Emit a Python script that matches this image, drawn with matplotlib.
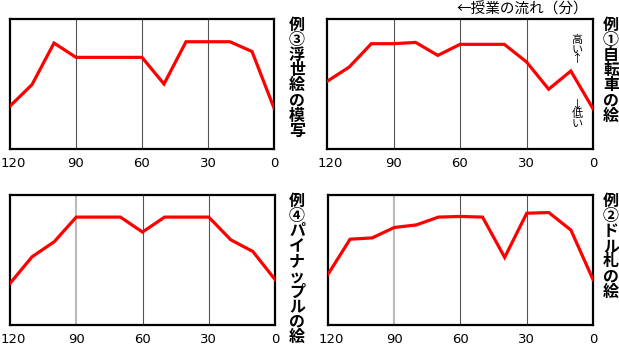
import numpy as np
import matplotlib
matplotlib.use("Agg")
import matplotlib.pyplot as plt

plt.rcParams['font.family'] = ['Noto Sans CJK JP', 'DejaVu Sans']

# minutes elapsed (axis runs 120 -> 0)
minutes = [120, 110, 100, 90, 80, 70, 60, 50, 40, 30, 20, 10, 0]
ticks = [120, 90, 60, 30, 0]

# interest level, 0 (bottom) .. 100 (top)
ex1_bicycle = [52, 63, 81, 81, 82, 72, 80.5, 80.5, 80.5, 67, 46, 60, 31]
ex2_dollar = [39, 66, 67, 75, 77, 83, 83.5, 83, 52, 86, 86.5, 73, 35]
ex3_ukiyoe = [33, 49.5, 81.5, 70.5, 70.5, 70.5, 70.5, 50, 82.5, 82.5, 82.5, 75, 31.5]
ex4_pineapple = [32, 52.5, 64, 83, 83, 83, 71.5, 83, 83, 83, 65.5, 56.5, 35]

titles = {
    "ex1": "例①自転車の絵",
    "ex2": "例②ドル札の絵",
    "ex3": "例③浮世絵の模写",
    "ex4": "例④パイナップルの絵",
}

W, H = 619, 352
fig = plt.figure(figsize=(W / 100, H / 100), dpi=100)


def px_axes(x0, y0, x1, y1):
    return fig.add_axes([x0 / W, 1 - y1 / H, (x1 - x0) / W, (y1 - y0) / H])


def panel(ax, values, light90=False):
    for m in (90, 60, 30):
        if m == 90 and light90:
            ax.axvline(m, color="#bbbbbb", lw=1.5, zorder=1)
        else:
            ax.axvline(m, color="#555555", lw=0.8, zorder=1)
    ax.plot(minutes, values, color="#ff0000", lw=2.3, zorder=3,
            solid_joinstyle="miter")
    ax.set_xlim(120, 0)
    ax.set_ylim(0, 100)
    ax.set_yticks([])
    ax.set_xticks(ticks)
    # first label drawn separately so it stays inside the figure edge
    ax.set_xticklabels([""] + [str(t) for t in ticks[1:]], fontsize=9.5,
                       family="DejaVu Sans")
    ax.annotate(str(ticks[0]), xy=(ticks[0], 0),
                xycoords=("data", "axes fraction"),
                xytext=(2.5, -6), textcoords="offset points",
                ha="center", va="top", fontsize=9.5, family="DejaVu Sans")
    ax.tick_params(axis="x", length=0, pad=6)
    for s in ax.spines.values():
        s.set_linewidth(1.6)
        s.set_color("black")


def vtitle(text, x, y, size=11.5):
    fig.text(x / W, 1 - y / H, "\n".join(text), ha="center", va="top",
             fontsize=size, fontweight="bold", linespacing=0.93)


ax3 = px_axes(10, 19, 274, 149)
panel(ax3, ex3_ukiyoe)
ax1 = px_axes(327, 19, 593, 149)
panel(ax1, ex1_bicycle)
ax4 = px_axes(10, 195, 275, 325)
panel(ax4, ex4_pineapple, light90=True)
ax2 = px_axes(328, 195, 593, 325)
panel(ax2, ex2_dollar, light90=True)

vtitle(titles["ex3"], 297, 17)
vtitle(titles["ex1"], 611, 17)
vtitle(titles["ex4"], 297, 193)
vtitle(titles["ex2"], 611, 193)

fig.text(588 / W, 1 - 9 / H, "←授業の流れ（分）", ha="right", va="center",
         fontsize=10.5)
fig.text(577 / W, 1 - 35 / H, "\n".join("高い↑"), ha="center", va="top",
         fontsize=8, linespacing=0.95)
fig.text(577 / W, 1 - 99 / H, "\n".join("↓低い"), ha="center", va="top",
         fontsize=8, linespacing=0.95)

fig.savefig("out.png", dpi=100)
